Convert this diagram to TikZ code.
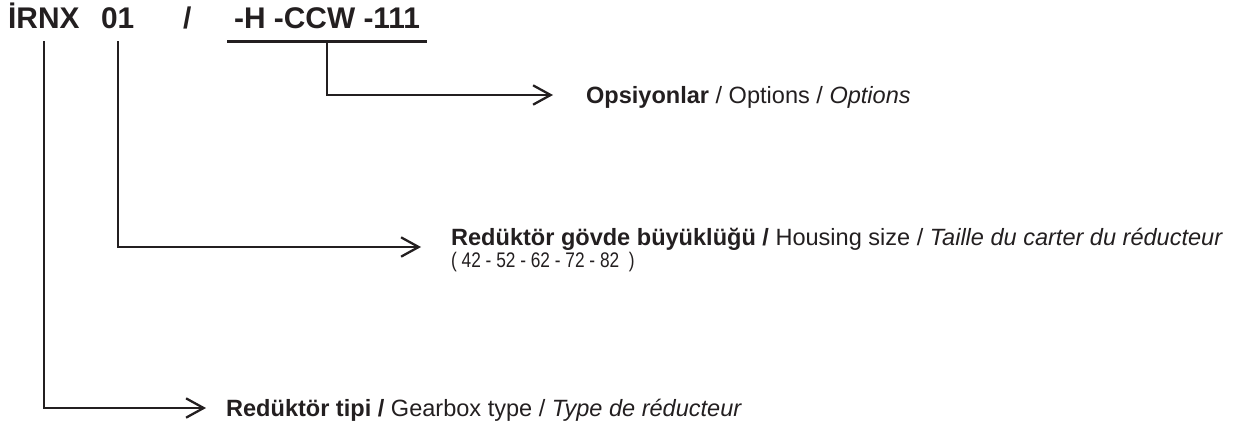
\documentclass[tikz,border=0pt]{standalone}
\usepackage{fontspec}
\setmainfont{Liberation Sans}
\newfontfamily\narrowsans[FakeStretch=0.82]{Liberation Sans}
\usepackage{tikz}
\usetikzlibrary{arrows.meta}
\definecolor{ink}{RGB}{35,31,32}

\begin{document}
\begin{tikzpicture}[x=0.02cm,y=-0.02cm,ink,line width=1.3pt,
	>={Straight Barb[length=10pt,width=11pt]},
	code/.style={font=\bfseries\fontsize{17}{20}\selectfont,inner xsep=0.12cm,inner ysep=0.24cm,anchor=base west},
	lbl/.style={font=\fontsize{13.4}{16}\selectfont,inner sep=0pt,text height=9.6pt,text depth=0pt,anchor=west},
	note/.style={font=\narrowsans\fontsize{12}{14}\selectfont,inner sep=0pt,anchor=west}]
	\useasboundingbox (0,0) rectangle (1256,430);

	%type code
	\node[code] (typ) at (1,28) {İRNX};
	\node[code] (size) at (94,28) {01};
	\node[code] (sep) at (176,28) {/};
	\node[code] (opt) at (227,28) {-H -CCW -111};
	\draw (opt.south west)--(opt.south east);

	%labels
	\node[lbl] (optlbl) at (585,95) {\textbf{Opsiyonlar} / Options / \textit{Options}};
	\node[lbl] (sizelbl) at (450,237) {\textbf{Redüktör gövde büyüklüğü /} Housing size / \textit{Taille du carter du réducteur}};
	\node[note] (sizelist) at (450,262) {( 42 - 52 - 62 - 72 - 82 \ )};
	\node[lbl] (typlbl) at (225,408) {\textbf{Redüktör tipi /} Gearbox type / \textit{Type de réducteur}};

	%leaders
	\draw[->,shorten >=0.64cm] (opt.south) |- (optlbl.west);
	\draw[->,shorten >=0.58cm] (size.south) |- ([yshift=-0.2cm]sizelbl.west);
	\draw[->,shorten >=0.38cm] (typ.south) |- (typlbl.west);
\end{tikzpicture}
\end{document}
